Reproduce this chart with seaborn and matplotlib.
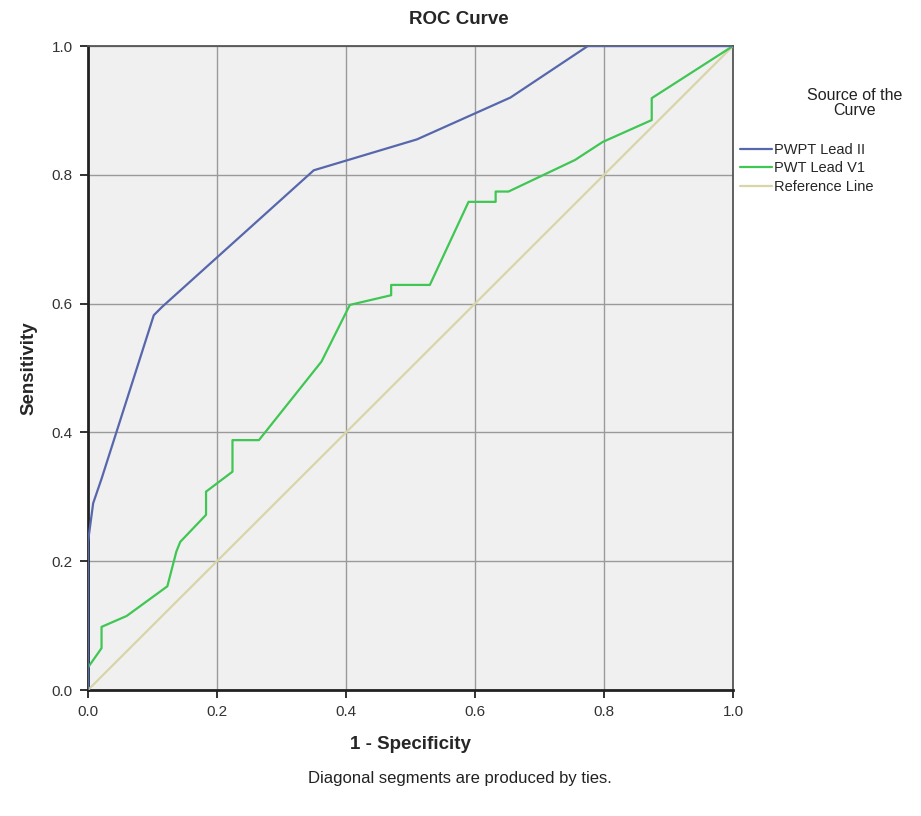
import numpy as np
import pandas as pd
import matplotlib
matplotlib.use("Agg")
import matplotlib.pyplot as plt
import seaborn as sns

# ROC points
pwpt_fpr = [0.0, 0.0, 0.008, 0.021, 0.102, 0.115, 0.35, 0.51, 0.655, 0.775, 1.0]
pwpt_tpr = [0.0, 0.23, 0.29, 0.328, 0.582, 0.595, 0.807, 0.855, 0.92, 1.0, 1.0]

pwt_fpr = [0.0, 0.0, 0.021, 0.021, 0.06, 0.123, 0.137, 0.143, 0.183, 0.183,
           0.224, 0.224, 0.265, 0.362, 0.406, 0.47, 0.47, 0.53, 0.59, 0.632,
           0.632, 0.652, 0.755, 0.798, 0.874, 0.874, 1.0]
pwt_tpr = [0.0, 0.035, 0.065, 0.098, 0.115, 0.161, 0.215, 0.23, 0.272, 0.308,
           0.339, 0.388, 0.388, 0.51, 0.598, 0.613, 0.629, 0.629, 0.758, 0.758,
           0.774, 0.774, 0.823, 0.851, 0.885, 0.919, 1.0]

ref_x = [0.0, 1.0]
ref_y = [0.0, 1.0]

series_names = ["PWPT Lead II", "PWT Lead V1", "Reference Line"]
series_colors = ["#5767ac", "#3fc653", "#d8d5a8"]

df = pd.concat([
    pd.DataFrame({"fpr": pwpt_fpr, "tpr": pwpt_tpr, "src": series_names[0]}),
    pd.DataFrame({"fpr": pwt_fpr, "tpr": pwt_tpr, "src": series_names[1]}),
    pd.DataFrame({"fpr": ref_x, "tpr": ref_y, "src": series_names[2]}),
])

sns.set_style("white")
plt.rcParams["font.family"] = ["Liberation Sans", "DejaVu Sans"]

fig = plt.figure(figsize=(9.21, 8.16), dpi=100)
ax = fig.add_axes([88 / 921, 1 - 690 / 816, 645 / 921, 644 / 816])
ax.set_facecolor("#f0f0f0")

# reference first so it sits under the curves
for name, color, z in zip(series_names[::-1], series_colors[::-1], [1, 2, 3]):
    sub = df[df["src"] == name]
    sns.lineplot(data=sub, x="fpr", y="tpr", sort=False, estimator=None,
                 color=color, linewidth=1.6, ax=ax, zorder=z + 2, label=name)

ax.set_xlim(0, 1)
ax.set_ylim(0, 1)
ticks = [0.0, 0.2, 0.4, 0.6, 0.8, 1.0]
ax.set_xticks(ticks)
ax.set_yticks(ticks)
ax.set_xticklabels([f"{t:.1f}" for t in ticks])
ax.set_yticklabels([f"{t:.1f}" for t in ticks])
ax.grid(True, color="#9a9a9a", linewidth=1.0)
ax.set_axisbelow(True)
for s in ax.spines.values():
    s.set_color("#555555")
    s.set_linewidth(1.3)
ax.spines["left"].set_color("#222222")
ax.spines["bottom"].set_color("#222222")
ax.spines["left"].set_linewidth(2)
ax.spines["bottom"].set_linewidth(2)
ax.tick_params(axis="both", direction="out", length=6, width=1.3, color="#222222",
               labelsize=11, labelcolor="#333333", left=True, bottom=True, pad=5)

fig.text(459 / 921, 1 - 20 / 816, "ROC Curve", ha="center", va="center",
         fontsize=13.5, fontweight="bold")
ax.set_xlabel("1 - Specificity", fontsize=13.5, fontweight="bold", labelpad=12)
ax.set_ylabel("Sensitivity", fontsize=13.5, fontweight="bold", labelpad=10)

# legend title centred above the entries
fig.text(855 / 921, 1 - 103 / 816, "Source of the\nCurve", ha="center", va="center",
         fontsize=11.5, linespacing=0.95, color="#222222")

handles, labels = ax.get_legend_handles_labels()
order = [labels.index(n) for n in series_names]
ax.legend([handles[i] for i in order], [labels[i] for i in order],
          loc="upper left", bbox_to_anchor=(740 / 921, 1 - 143 / 816),
          bbox_transform=fig.transFigure, frameon=False, fontsize=10.5,
          handlelength=2.2, handletextpad=0.15, labelspacing=0.3,
          borderaxespad=0.0, borderpad=0.0)

fig.text(460 / 921, 1 - 778 / 816, "Diagonal segments are produced by ties.",
         ha="center", va="center", fontsize=12, color="#222222")

fig.savefig("out.png", dpi=100)
